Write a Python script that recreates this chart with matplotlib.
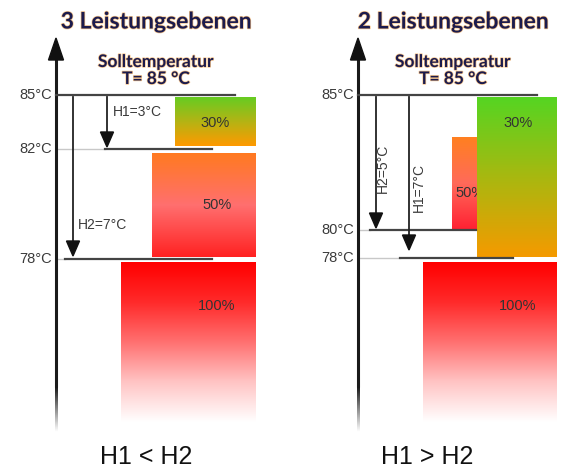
import numpy as np
import matplotlib
matplotlib.use('Agg')
import matplotlib.pyplot as plt
from matplotlib.colors import LinearSegmentedColormap
from matplotlib.patches import Polygon
import matplotlib.patheffects as pe

# values shown in the diagram
titles = ['3 Leistungsebenen', '2 Leistungsebenen']
conditions = ['H1 < H2', 'H1 > H2']
setpoint = 85
levels_left = [85, 82, 78]
levels_right = [85, 80, 78]
hyst_left = [('H1', 3), ('H2', 7)]
hyst_right = [('H2', 5), ('H1', 7)]
stages = [30, 50, 100]

NAVY = '#1b1b4d'
GRAY = '#3a3a3a'

fig = plt.figure(figsize=(5.65, 4.69), dpi=100)
ax = fig.add_axes([0, 0, 1, 1])


def grad_box(x0, x1, y0, y1, colors, z=1):
    cmap = LinearSegmentedColormap.from_list('g', colors)
    g = np.linspace(0, 1, 256).reshape(-1, 1)
    ax.imshow(g, cmap=cmap, extent=(x0, x1, y1, y0), aspect='auto',
              interpolation='bicubic', zorder=z)


def down_arrow(x, y0, y1):
    ax.plot([x, x], [y0, y1 - 12], color='#222222', lw=1.3, zorder=4)
    ax.add_patch(Polygon([[x - 6.5, y1 - 15], [x + 6.5, y1 - 15], [x, y1]],
                         closed=True, color='#111111', zorder=5))


def axis_arrow(x, top=38, bottom=432):
    ax.plot([x, x], [top + 16, bottom - 45], color='#1a1a1a', lw=2.2, zorder=3,
            solid_capstyle='butt')
    # fading tail
    fade = np.zeros((64, 1, 4))
    fade[..., :3] = 0.1
    fade[:, 0, 3] = np.linspace(1, 0, 64)
    ax.imshow(fade, extent=(x - 1.1, x + 1.1, bottom, bottom - 45), aspect='auto',
              interpolation='bilinear', zorder=3)
    ax.add_patch(Polygon([[x - 7.5, top + 22], [x + 7.5, top + 22], [x, top]],
                         closed=True, color='#111111', zorder=5))


def level_line(x_axis, xs, xe, y, xl=None):
    if xl is not None:
        ax.plot([x_axis, xs], [y, y], color='#c8c8c8', lw=1.0, zorder=2)
    ax.plot([xs, xe], [y, y], color='#444444', lw=1.6, zorder=4)


def tick_label(x_axis, y, t):
    ax.text(x_axis - 4, y, f'{t}°C', ha='right', va='center', fontsize=10.5,
            color=GRAY, family='Liberation Sans')


def heading(cx, title, cond):
    glow = [pe.withStroke(linewidth=1.0, foreground='#f6c48a')]
    ax.text(cx, 22, title, ha='center', va='center', fontsize=16.5,
            fontweight='bold', color=NAVY, family='Lato', path_effects=glow)
    ax.text(cx, 62, 'Solltemperatur', ha='center', va='center', fontsize=12.5,
            fontweight='bold', color=NAVY, family='Lato', path_effects=glow)
    ax.text(cx, 79, f'T= {setpoint} °C', ha='center', va='center', fontsize=12.5,
            fontweight='bold', color=NAVY, family='Lato', path_effects=glow)
    ax.text(cx - 10 if cond.startswith('H1 <') else cx - 26, 457, cond, ha='center',
            va='center', fontsize=18, color='#111111', family='Liberation Sans')


def pct(x, y, v):
    ax.text(x, y, f'{v}%', ha='center', va='center', fontsize=10.5,
            color='#333333', family='Liberation Sans', zorder=6)


# ---------------- left panel: H1 < H2 ----------------
xa = 56
y_left = dict(zip(levels_left, [95, 149, 259]))
heading(156, titles[0], conditions[0])
axis_arrow(xa)
for t in levels_left:
    tick_label(xa, y_left[t], t)
level_line(xa, xa, 235, y_left[85])
level_line(xa, 105, 212, y_left[82], xl=True)
level_line(xa, 65, 212, y_left[78], xl=True)

# H1 / H2 arrows
down_arrow(107, y_left[85] + 2, y_left[85] - 2 + 18 * hyst_left[0][1])
down_arrow(73, y_left[85] + 2, y_left[78] - 3)
ax.text(113, 112, f'{hyst_left[0][0]}={hyst_left[0][1]}°C', ha='left',
        va='center', fontsize=10, color=GRAY, family='Liberation Sans')
ax.text(78, 225, f'{hyst_left[1][0]}={hyst_left[1][1]}°C', ha='left',
        va='center', fontsize=10, color=GRAY, family='Liberation Sans')

grad_box(175, 256, 97, 146, ['#66cc22', '#b4b414', '#ff9900'])
pct(215, 123, stages[0])
grad_box(152, 256, 153, 257, ['#ff7a20', '#ff6f6f', '#ff2222'])
pct(217, 205, stages[1])
grad_box(121, 256, 262, 422, ['#ff0000', '#ff2a2a', '#ff7070', '#ffc4c4', '#ffffff'])
pct(217, 306, stages[2])

# ---------------- right panel: H1 > H2 ----------------
xb = 358
y_right = dict(zip(levels_right, [95, 230, 258]))
heading(453, titles[1], conditions[1])
axis_arrow(xb)
for t in levels_right:
    tick_label(xb, y_right[t], t)
level_line(xb, xb, 537, y_right[85])
level_line(xb, 370, 476, y_right[80], xl=True)
level_line(xb, 400, 513, y_right[78], xl=True)

down_arrow(376, y_right[85] + 2, y_right[80] - 2)
down_arrow(409, y_right[85] + 2, y_right[78] - 8)
ax.text(383, 168, f'{hyst_right[0][0]}={hyst_right[0][1]}°C', ha='center',
        va='center', rotation=90, fontsize=10, color=GRAY, family='Liberation Sans')
ax.text(419, 187, f'{hyst_right[1][0]}={hyst_right[1][1]}°C', ha='center',
        va='center', rotation=90, fontsize=10, color=GRAY, family='Liberation Sans')

grad_box(452, 480, 137, 229, ['#ff8020', '#ff6a5a', '#ff2233'], z=1)
ax.text(455, 193, f'{stages[1]}%', ha='left', va='center', fontsize=10.5,
        color='#333333', family='Liberation Sans', zorder=1.5)
grad_box(477, 557, 97, 257, ['#55d522', '#a8b810', '#f59a00'], z=2)
pct(518, 123, stages[0])
grad_box(423, 557, 262, 422, ['#ff0000', '#ff2a2a', '#ff7070', '#ffc4c4', '#ffffff'])
pct(518, 306, stages[2])

ax.set_xlim(0, 565)
ax.set_ylim(469, 0)
ax.axis('off')
fig.savefig('out.png', dpi=100)
